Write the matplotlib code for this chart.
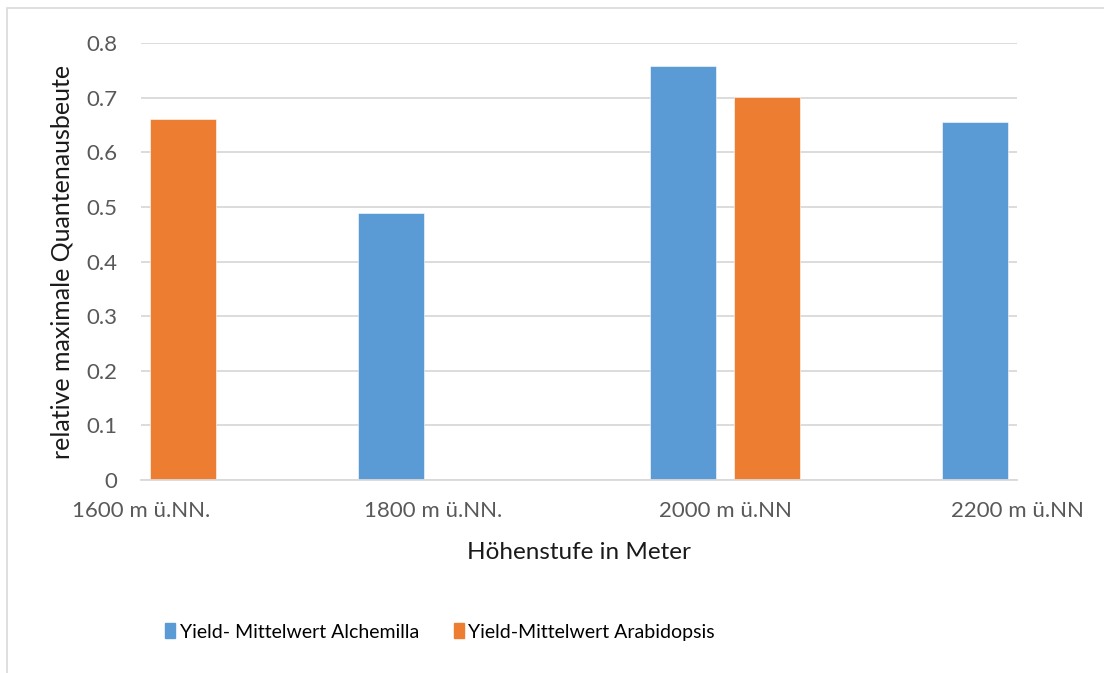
import numpy as np
import matplotlib
matplotlib.use("Agg")
from matplotlib import pyplot as plt
from matplotlib.patches import Rectangle, Patch

plt.rcParams['font.family'] = ['Lato', 'DejaVu Sans']

hoehen = ['1600 m ü.NN.', '1800 m ü.NN.', '2000 m ü.NN', '2200 m ü.NN']
alchemilla = [np.nan, 0.489, 0.758, 0.656]
arabidopsis = [0.661, np.nan, 0.701, np.nan]
y_ticks = [0, 0.1, 0.2, 0.3, 0.4, 0.5, 0.6, 0.7, 0.8]

blue = '#5B9BD5'
orange = '#ED7D31'
grey_text = '#595959'

W, H = 1104, 673
fig = plt.figure(figsize=(W / 100, H / 100), dpi=100)
ax = fig.add_axes([141 / W, 1 - 480 / H, (1017 - 141) / W, (480 - 43) / H])

# light frame around the chart area
fig.patches.append(Rectangle((7 / W, -0.1), 1.2, 1 - 8 / H + 0.1,
                             transform=fig.transFigure, fill=False,
                             edgecolor='#D9D9D9', linewidth=1.2))

index = np.arange(len(hoehen))
bar_width = 0.226
gap = 0.062
off = (bar_width + gap) / 2
ax.bar(index - off, alchemilla, bar_width, color=blue,
       edgecolor='white', linewidth=0.4, label='Yield- Mittelwert Alchemilla')
ax.bar(index + off, arabidopsis, bar_width, color=orange,
       edgecolor='white', linewidth=0.4, label='Yield-Mittelwert Arabidopsis')

ax.set_xlim(0, 3)
ax.set_ylim(0, 0.8)
ax.set_yticks(y_ticks)
ax.set_yticklabels([('%g' % v) for v in y_ticks])
ax.set_xticks(index)
ax.set_xticklabels(hoehen)
ax.yaxis.grid(True, color='#D9D9D9', linewidth=1.3)
ax.set_axisbelow(True)
for s in ['top', 'right', 'left']:
    ax.spines[s].set_visible(False)
ax.spines['bottom'].set_color('#D9D9D9')
ax.spines['bottom'].set_linewidth(1.3)
ax.tick_params(axis='both', length=0, labelsize=16, labelcolor=grey_text)
ax.tick_params(axis='y', pad=17)
ax.tick_params(axis='x', pad=15)

ax.set_ylabel('relative maximale Quantenausbeute', fontsize=18, color='#1a1a1a', labelpad=9)
ax.set_xlabel('Höhenstufe in Meter', fontsize=17.5, color='#1a1a1a', labelpad=15.5)

handles = [Patch(color=blue), Patch(color=orange)]
fig.legend(handles, ['Yield- Mittelwert Alchemilla', 'Yield-Mittelwert Arabidopsis'],
           loc='center', bbox_to_anchor=(440 / W, 1 - 632 / H), ncol=2,
           frameon=False, fontsize=14,
           handlelength=0.52, handleheight=0.82,
           handletextpad=0.22, columnspacing=1.8)

fig.savefig('out.png', dpi=100)
